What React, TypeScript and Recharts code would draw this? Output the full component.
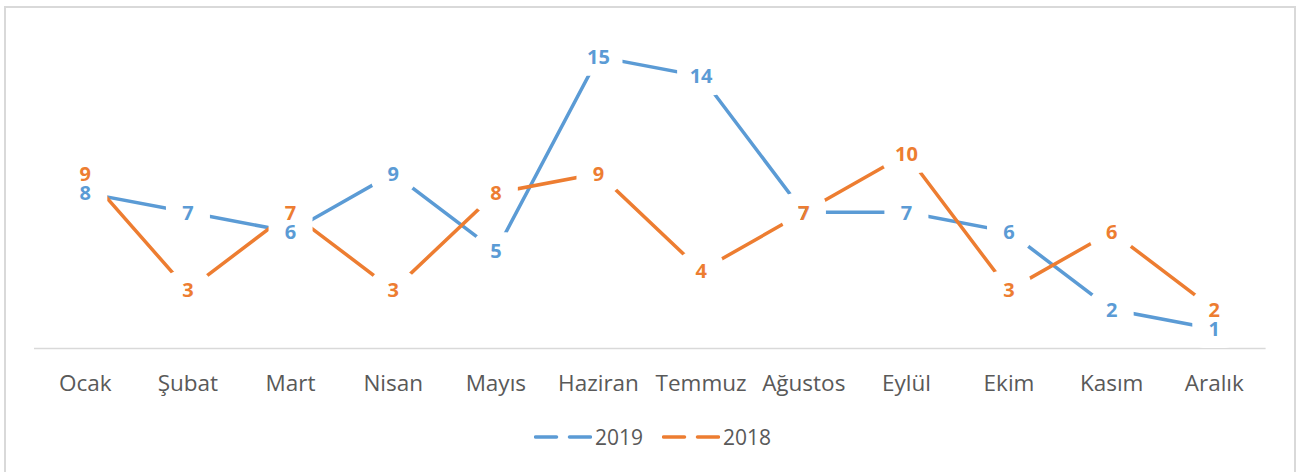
import React from "react";
import { LineChart, Line, XAxis, YAxis, LabelList } from "recharts";

const months = ["Ocak", "Şubat", "Mart", "Nisan", "Mayıs", "Haziran", "Temmuz", "Ağustos", "Eylül", "Ekim", "Kasım", "Aralık"];
const values2019 = [8, 7, 6, 9, 5, 15, 14, 7, 7, 6, 2, 1];
const values2018 = [9, 3, 7, 3, 8, 9, 4, 7, 10, 3, 6, 2];

const BLUE = "#5B9BD5";
const ORANGE = "#ED7D31";
const FONT = "'Open Sans', 'Noto Sans', sans-serif";

const data = months.map((m, i) => ({ month: m, y2019: values2019[i], y2018: values2018[i] }));

// white box behind a data label (hides the line under it, like Excel)
const labelBox = (props: any) => {
  const { x, y, value } = props;
  if (x == null || y == null) return null;
  const w = 40 + 4 * String(value).length;
  const h = 38;
  return <rect x={x - w / 2} y={y - h / 2} width={w} height={h} rx={12} fill="#fff" />;
};

// label text, drawn on top of every box so close labels stay readable
const labelText = (color: string) => (props: any) => {
  const { x, y, value } = props;
  if (x == null || y == null) return null;
  return (
    <text x={x} y={y + 7.2} textAnchor="middle" fill={color} fontSize={20} fontWeight={700} fontFamily={FONT}>
      {String(value)}
    </text>
  );
};

const MonthTick = (props: any) => {
  const { x, y, payload } = props;
  return (
    <text x={x} y={y + 42.1} textAnchor="middle" fill="#595959" fontSize={22.5} fontFamily={FONT}>
      {payload.value}
    </text>
  );
};

function LegendItem({ color, label }: { color: string; label: string }) {
  return (
    <div style={{ display: "flex", alignItems: "center" }}>
      <svg width={58} height={10} style={{ display: "block" }}>
        <line x1={1.5} y1={5} x2={22.5} y2={5} stroke={color} strokeWidth={3.5} strokeLinecap="round" />
        <line x1={35.5} y1={5} x2={56.5} y2={5} stroke={color} strokeWidth={3.5} strokeLinecap="round" />
      </svg>
      <span style={{ color: "#595959", fontSize: 21, fontFamily: FONT, lineHeight: "24px", marginLeft: 3 }}>{label}</span>
    </div>
  );
}

export default function App() {
  return (
    <div style={{ position: "absolute", left: 0, top: 0, width: 1302, height: 472, background: "#fff", overflow: "hidden" }}>
      <div style={{ position: "absolute", left: 4, top: 6, width: 1288, height: 480, border: "2px solid #d9d9d9" }} />
      <LineChart
        width={1302}
        height={472}
        data={data}
        margin={{ top: 37.4, right: 36.4, bottom: 83.6, left: 34 }}
        style={{ position: "absolute", left: 0, top: 0 }}
      >
        <XAxis
          dataKey="month"
          height={40}
          padding={{ left: 51.3, right: 51.3 }}
          axisLine={{ stroke: "#d9d9d9", strokeWidth: 1.5 }}
          tickLine={false}
          tickSize={0}
          tickMargin={0}
          interval={0}
          tick={<MonthTick />}
        />
        <YAxis hide domain={[0, 16]} />
        <Line type="linear" dataKey="y2019" stroke={BLUE} strokeWidth={3.5} dot={false} isAnimationActive={false}>
          <LabelList dataKey="y2019" content={labelBox} />
        </Line>
        <Line type="linear" dataKey="y2018" stroke={ORANGE} strokeWidth={3.5} dot={false} isAnimationActive={false}>
          <LabelList dataKey="y2018" content={labelBox} />
        </Line>
        <Line type="linear" dataKey="y2019" stroke="none" dot={false} activeDot={false} legendType="none" isAnimationActive={false}>
          <LabelList dataKey="y2019" content={labelText(BLUE)} />
        </Line>
        <Line type="linear" dataKey="y2018" stroke="none" dot={false} activeDot={false} legendType="none" isAnimationActive={false}>
          <LabelList dataKey="y2018" content={labelText(ORANGE)} />
        </Line>
      </LineChart>
      <div style={{ position: "absolute", left: 534, top: 425, display: "flex", gap: 19 }}>
        <LegendItem color={BLUE} label="2019" />
        <LegendItem color={ORANGE} label="2018" />
      </div>
    </div>
  );
}
